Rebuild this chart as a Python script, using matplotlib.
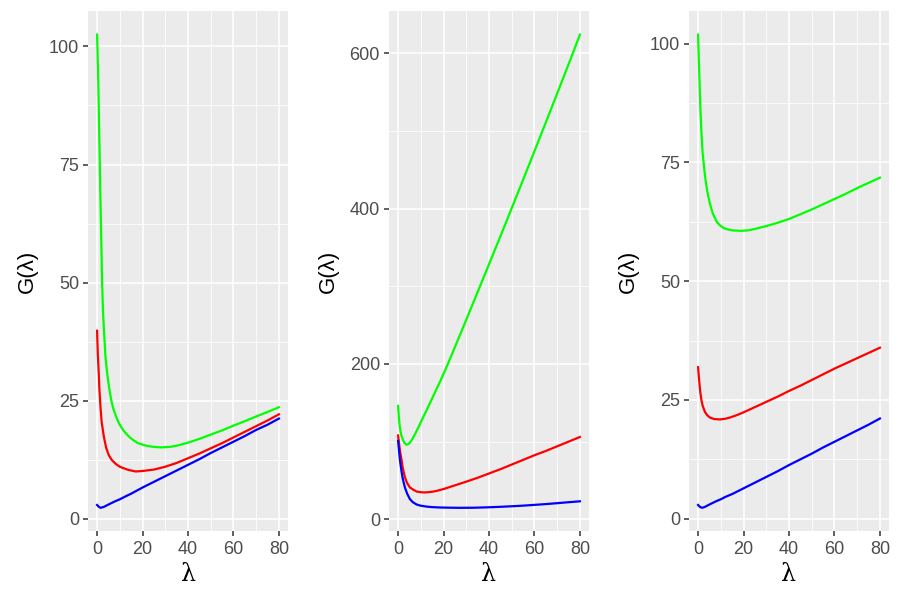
import numpy as np
from matplotlib import pyplot as plt

plt.rcParams['font.family'] = ['Liberation Sans', 'DejaVu Sans']

#Values, one list of lambda per curve
lam_g1 = [0, 0.5, 1, 1.5, 2.2, 2.6, 3, 3.7, 4.5, 5.5, 6.2, 7, 8.3, 9.7, 11, 12, 13, 14.2, 16, 18, 22, 25, 28, 32, 35, 40, 45, 50, 55, 60, 65, 70, 75, 80]
G_g1 = [102.5, 93, 80, 67, 50, 44, 40, 34.2, 30.5, 27.1, 25.2, 23.5, 21.7, 20.1, 19.1, 18.45, 17.9, 17.3, 16.6, 16.0, 15.4, 15.2, 15.1, 15.2, 15.45, 16.1, 16.9, 17.8, 18.7, 19.7, 20.65, 21.65, 22.6, 23.6]
lam_r1 = [0, 0.3, 0.75, 1, 1.5, 2, 3, 4, 5.2, 6.5, 8.2, 10, 12.7, 14, 17, 20, 25, 30, 35, 40, 45, 50, 55, 60, 65, 70, 75, 80]
G_r1 = [39.8, 35, 30.6, 27.5, 23.6, 20.5, 17.3, 15, 13.4, 12.4, 11.6, 11.0, 10.5, 10.3, 10.0, 10.1, 10.4, 11.0, 11.8, 12.8, 13.8, 14.9, 16.0, 17.2, 18.4, 19.6, 20.8, 22.1]
lam_b1 = [0, 0.8, 1.5, 3, 5, 8, 10, 12, 15, 20, 25, 30, 35, 40, 45, 50, 55, 60, 65, 70, 75, 80]
G_b1 = [2.9, 2.5, 2.3, 2.5, 3.0, 3.7, 4.1, 4.6, 5.3, 6.6, 7.8, 9.0, 10.2, 11.4, 12.6, 13.9, 15.1, 16.3, 17.5, 18.8, 19.9, 21.2]

lam_g2 = [0, 0.3, 0.7, 1.1, 1.5, 2.2, 2.9, 3.7, 4.4, 5.2, 6.3, 7.5, 8.7, 10, 11.3, 12.7, 14, 15.6, 18.5, 21.9, 25, 28.5, 32, 35.7, 39, 43, 46.5, 50.1, 53.5, 57, 60.3, 63.7, 68, 72, 76, 80]
G_g2 = [146, 133, 120, 113, 107.5, 102, 98, 96, 96.6, 98.8, 103.5, 110, 117, 125, 133, 141.5, 149.5, 159.5, 177.5, 200, 221.7, 246.4, 271.2, 297.6, 321.2, 349.9, 375.2, 401.4, 426.2, 451.9, 476.2, 501.3, 533.3, 563.3, 593.3, 624]
lam_r2 = [0, 0.3, 0.75, 1, 1.5, 2, 3, 4, 5.2, 6.5, 8.2, 10, 11.5, 13, 15, 17, 20, 25, 30, 35, 40, 45, 50, 55, 60, 65, 70, 75, 80]
G_r2 = [108, 100, 90, 85, 77, 67, 54, 46.5, 41, 38.5, 35.7, 34.9, 34.6, 34.8, 35.5, 36.6, 39, 43.7, 48.5, 53.5, 59, 64.5, 70.5, 76.5, 82.5, 88, 94, 100, 106]
lam_b2 = [0, 0.3, 0.75, 1, 1.5, 2, 3, 4, 5.2, 6.5, 8.2, 10, 12.7, 15, 18.6, 22, 27, 33, 40, 45, 50, 55, 60, 65, 70, 75, 80]
G_b2 = [101, 92, 78, 72, 62, 53, 41, 33, 26, 22, 19, 17.5, 16.3, 15.7, 15.2, 15.0, 14.8, 14.9, 15.5, 16.1, 16.8, 17.6, 18.6, 19.6, 20.8, 22, 23.2]

lam_g3 = [0, 0.3, 0.75, 1, 1.5, 2, 3, 4, 5.2, 6.5, 8.2, 9.5, 11.2, 13, 15, 19, 22, 25, 30, 35, 40, 45, 50, 55, 60, 65, 70, 75, 80]
G_g3 = [101.9, 97, 90.2, 86.5, 81, 77, 72.3, 69, 66.3, 64.2, 62.5, 61.8, 61.2, 60.9, 60.7, 60.6, 60.7, 61.0, 61.6, 62.3, 63.1, 64.1, 65.1, 66.2, 67.3, 68.4, 69.6, 70.7, 71.8]
lam_r3 = [0, 0.3, 0.75, 1, 1.5, 2, 3, 4, 5.2, 7, 9.7, 12, 14, 17, 20, 25, 30, 35, 40, 45, 50, 55, 60, 65, 70, 75, 80]
G_r3 = [31.9, 30, 27.7, 26.5, 24.9, 23.8, 22.5, 21.8, 21.3, 21.0, 20.9, 21.05, 21.3, 21.8, 22.4, 23.5, 24.6, 25.7, 26.9, 28.0, 29.2, 30.4, 31.6, 32.7, 33.8, 34.9, 36.0]
lam_b3 = [0, 0.8, 1.8, 3, 5, 8, 10, 12, 15, 20, 25, 30, 35, 40, 45, 50, 55, 60, 65, 70, 75, 80]
G_b3 = [2.9, 2.5, 2.3, 2.5, 3.0, 3.7, 4.1, 4.6, 5.2, 6.4, 7.6, 8.8, 10.0, 11.3, 12.5, 13.7, 15.0, 16.2, 17.4, 18.6, 19.8, 21.1]

x_ticks = [0, 20, 40, 60, 80]
y_ticks = [[0, 25, 50, 75, 100], [0, 200, 400, 600], [0, 25, 50, 75, 100]]

panels = [
    [(lam_g1, G_g1), (lam_r1, G_r1), (lam_b1, G_b1)],
    [(lam_g2, G_g2), (lam_r2, G_r2), (lam_b2, G_b2)],
    [(lam_g3, G_g3), (lam_r3, G_r3), (lam_b3, G_b3)],
]
COL = ["#00FF00", "#FF0000", "#0000FF"]
lefts = [88/900, 389/900, 689/900]

fig = plt.figure(figsize=(9, 6), dpi=100)
for p in range(3):
    ax = fig.add_axes([lefts[p], 0.1142, 200/900, 0.8675])
    ax.set_facecolor("#EBEBEB")
    for s in range(3):
        lam, G = panels[p][s]
        ax.plot(lam, G, color=COL[s], lw=1.6, zorder=3)

    #ggplot style 5% expansion
    allG = np.concatenate([panels[p][s][1] for s in range(3)])
    lo, hi = allG.min(), allG.max()
    pad = 0.05 * (hi - lo)
    ax.set_ylim(lo - pad, hi + pad)
    ax.set_xlim(-4, 84)

    ax.set_xticks(x_ticks)
    ax.set_yticks(y_ticks[p])
    yt = y_ticks[p]
    step = yt[1] - yt[0]
    ax.set_xticks([10, 30, 50, 70], minor=True)
    minors = [v + step / 2 for v in yt]
    ax.set_yticks([v for v in minors if v < hi + pad], minor=True)
    ax.grid(which="major", color="white", lw=1.1, zorder=1)
    ax.grid(which="minor", color="white", lw=0.55, zorder=1)
    ax.set_axisbelow(True)
    for sp in ax.spines.values():
        sp.set_visible(False)
    ax.tick_params(which="major", length=3.5, width=1.1, color="#333333",
                   labelcolor="#4D4D4D", labelsize=13, pad=3)
    ax.tick_params(which="minor", length=0)
    ax.set_xlabel("λ", fontsize=17, family="DejaVu Serif", labelpad=4)
    ax.set_ylabel("G(λ)", fontsize=16, labelpad=8)

fig.savefig("out.png", dpi=100)
